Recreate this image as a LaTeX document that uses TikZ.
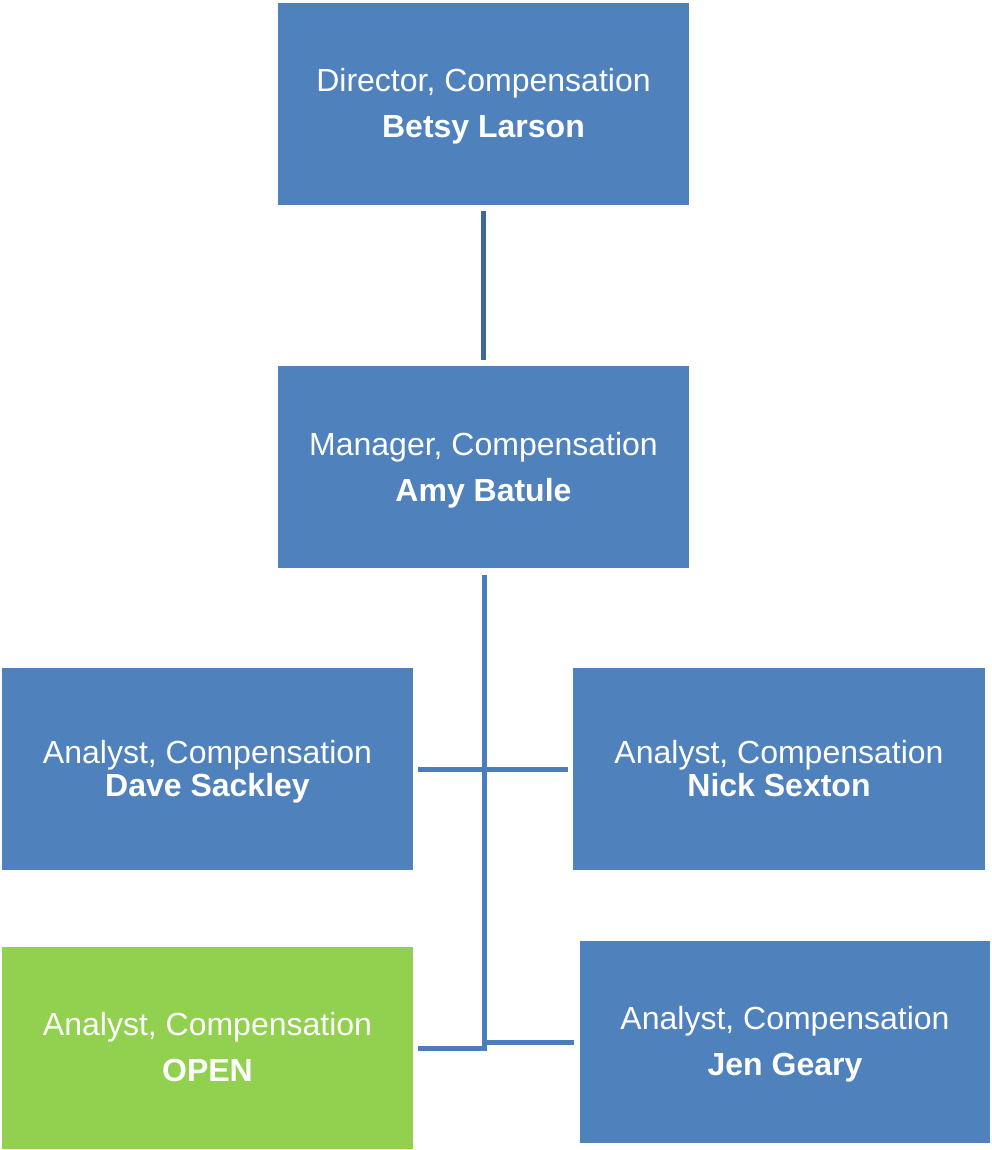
\documentclass[tikz,border=0pt]{standalone}
\usepackage{fontspec}
\setmainfont{Liberation Sans}
\definecolor{boxblue}{HTML}{4F81BD}
\definecolor{boxgreen}{HTML}{92D050}
\definecolor{connA}{HTML}{3F6797}
\definecolor{connB}{HTML}{4A7EBB}
\begin{document}
\begin{tikzpicture}[x=1pt,y=-1pt,
  card/.style={rectangle, fill=boxblue, draw=none, minimum width=411pt, minimum height=202pt,
    inner sep=0pt},
  opencard/.style={card, fill=boxgreen},
  txt/.style={text=white, align=center, inner sep=0pt, font=\fontsize{32}{46}\selectfont},
  tighttxt/.style={txt, font=\fontsize{32}{33}\selectfont},
  conn/.style={draw=connB, line width=5pt},
  connd/.style={draw=connA, line width=5pt}]
\useasboundingbox (0,0) rectangle (992,1150);
\node[card] (dir) at (483.5,104) {};
\node[card] (mgr) at (483.5,467) {};
\node[card] (dave) at (207.5,769) {};
\node[card, minimum width=412pt] (nick) at (779,769) {};
\node[opencard] (open) at (207.5,1047.5) {};
\node[card, minimum width=410pt] (jen) at (785,1042) {};
\node[txt] (dirt) at ([yshift=-2pt]dir.center) {Director, Compensation\\\textbf{Betsy Larson}};
\node[txt] (mgrt) at ([yshift=-3pt]mgr.center) {Manager, Compensation\\\textbf{Amy Batule}};
\node[tighttxt] (davet) at ([yshift=-3pt]dave.center) {Analyst, Compensation\\\textbf{Dave Sackley}};
\node[tighttxt] (nickt) at (nick.center) {Analyst, Compensation\\\textbf{Nick Sexton}};
\node[txt] (opent) at (open.center) {Analyst, Compensation\\\textbf{OPEN}};
\node[txt] (jent) at ([yshift=-2pt]jen.center) {Analyst, Compensation\\\textbf{Jen Geary}};
\coordinate (j) at (484,1048.5);
\coordinate (jr) at (484,1042.5);
\draw[connd, shorten <=6pt, shorten >=6pt] (dir.south) -- (mgr.north);
\draw[conn, shorten <=7pt] (mgr.south -| j) -- ([yshift=2.5pt]j);
\draw[conn, shorten <=5pt, shorten >=5pt] (dave.east) -- (nick.west);
\draw[conn, shorten <=5pt] (open.east |- j) -- ([xshift=2.5pt]j);
\draw[conn, shorten >=6pt] (jr) -- (jen.west |- jr);
\end{tikzpicture}
\end{document}
